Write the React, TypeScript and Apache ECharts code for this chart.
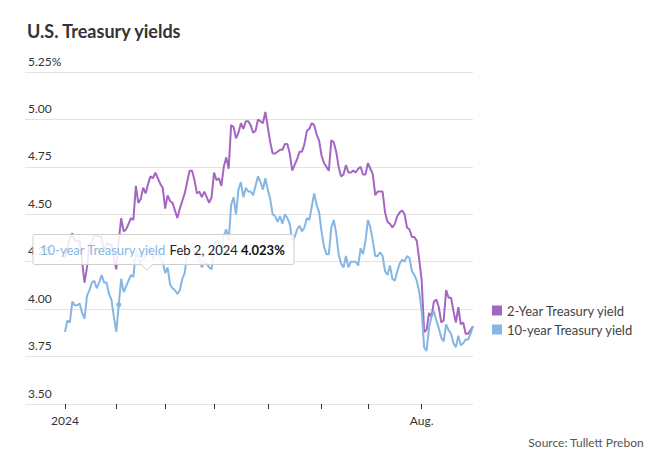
import { useEffect, useRef } from 'react';
import * as echarts from 'echarts';

// ---------- data ----------
const startDate = '2024-01-02';
const endDate = '2024-08-30';
const marketHolidays = ['2024-01-15', '2024-02-19', '2024-03-29', '2024-05-27', '2024-06-19', '2024-07-04'];

// 2-Year Treasury yield, one value per trading day (Jan 2 – Aug 30, 2024)
const twoYearJan = [4.27, 4.33, 4.37, 4.40, 4.36, 4.36, 4.36, 4.25, 4.14, 4.22, 4.34, 4.35, 4.39, 4.39, 4.38, 4.38, 4.30, 4.35, 4.34, 4.34, 4.27];
const twoYearFeb = [4.21, 4.36, 4.48, 4.41, 4.42, 4.45, 4.48, 4.47, 4.65, 4.56, 4.58, 4.64, 4.61, 4.66, 4.70, 4.69, 4.72, 4.69, 4.66, 4.64];
const twoYearMar = [4.53, 4.60, 4.57, 4.56, 4.52, 4.48, 4.53, 4.57, 4.61, 4.67, 4.73, 4.73, 4.68, 4.61, 4.62, 4.59, 4.62, 4.59, 4.56, 4.59];
const twoYearApr = [4.72, 4.68, 4.69, 4.65, 4.75, 4.80, 4.74, 4.97, 4.96, 4.90, 4.93, 4.98, 4.95, 4.99, 4.99, 4.97, 4.93, 4.94, 5.00, 4.99, 4.98, 5.04];
const twoYearMay = [4.96, 4.88, 4.82, 4.82, 4.83, 4.84, 4.84, 4.87, 4.87, 4.82, 4.73, 4.76, 4.79, 4.83, 4.83, 4.87, 4.94, 4.95, 4.98, 4.97, 4.92, 4.89];
const twoYearJun = [4.81, 4.77, 4.75, 4.73, 4.89, 4.88, 4.83, 4.75, 4.70, 4.71, 4.76, 4.72, 4.72, 4.73, 4.72, 4.74, 4.75, 4.71, 4.71];
const twoYearJul = [4.77, 4.74, 4.71, 4.60, 4.62, 4.62, 4.62, 4.51, 4.46, 4.45, 4.43, 4.45, 4.49, 4.51, 4.52, 4.50, 4.43, 4.42, 4.38, 4.38, 4.36, 4.26];
const twoYearAug = [4.15, 3.88, 3.89, 3.98, 3.96, 4.04, 4.05, 4.01, 3.93, 3.94, 4.10, 4.06, 4.06, 3.99, 3.93, 4.01, 3.92, 3.93, 3.87, 3.87, 3.89, 3.91];

// 10-year Treasury yield
const tenYearJan = [3.88, 3.94, 3.93, 4.04, 4.02, 4.02, 4.03, 3.98, 3.95, 4.07, 4.10, 4.14, 4.15, 4.11, 4.14, 4.18, 4.14, 4.14, 4.08, 4.05, 3.96];
const tenYearFeb = [3.88, 4.023, 4.16, 4.09, 4.12, 4.15, 4.18, 4.17, 4.31, 4.27, 4.24, 4.30, 4.27, 4.32, 4.33, 4.26, 4.28, 4.31, 4.27, 4.25];
const tenYearMar = [4.19, 4.22, 4.13, 4.11, 4.10, 4.08, 4.10, 4.16, 4.19, 4.29, 4.31, 4.34, 4.30, 4.28, 4.27, 4.22, 4.25, 4.24, 4.22, 4.21];
const tenYearApr = [4.33, 4.36, 4.36, 4.31, 4.39, 4.42, 4.36, 4.55, 4.59, 4.50, 4.63, 4.67, 4.59, 4.64, 4.62, 4.62, 4.60, 4.65, 4.70, 4.67, 4.63, 4.69];
const tenYearMay = [4.63, 4.58, 4.50, 4.49, 4.46, 4.49, 4.45, 4.50, 4.48, 4.45, 4.36, 4.38, 4.42, 4.44, 4.41, 4.43, 4.48, 4.47, 4.54, 4.61, 4.55, 4.51];
const tenYearJun = [4.41, 4.33, 4.29, 4.29, 4.43, 4.47, 4.40, 4.29, 4.24, 4.22, 4.28, 4.22, 4.25, 4.25, 4.25, 4.23, 4.32, 4.29, 4.36];
const tenYearJul = [4.47, 4.43, 4.36, 4.28, 4.28, 4.30, 4.28, 4.20, 4.18, 4.23, 4.16, 4.15, 4.20, 4.24, 4.26, 4.25, 4.28, 4.27, 4.20, 4.18, 4.15, 4.09];
const tenYearAug = [3.99, 3.80, 3.78, 3.90, 3.96, 3.99, 3.94, 3.90, 3.85, 3.83, 3.92, 3.89, 3.87, 3.82, 3.80, 3.86, 3.81, 3.82, 3.84, 3.84, 3.87, 3.91];

const seriesNames = ['2-Year Treasury yield', '10-year Treasury yield'];
const xLabelDates = ['2024-01-02', '2024-08-01'];
const xLabelTexts = ['2024', 'Aug.'];
const highlightDate = '2024-02-02';
const highlightValue = 4.023;
const highlightLabel = 'Feb 2, 2024';

const yMin = 3.5;
const yMax = 5.25;
const yStep = 0.25;

// ---------- helpers ----------
function tradingDays(start: string, end: string, skip: string[]): string[] {
  const out: string[] = [];
  const d = new Date(start + 'T00:00:00Z');
  const e = new Date(end + 'T00:00:00Z');
  while (d.getTime() <= e.getTime()) {
    const wd = d.getUTCDay();
    const s = d.toISOString().slice(0, 10);
    if (wd !== 0 && wd !== 6 && skip.indexOf(s) < 0) out.push(s);
    d.setUTCDate(d.getUTCDate() + 1);
  }
  return out;
}

const dates = tradingDays(startDate, endDate, marketHolidays);
const twoYear = [...twoYearJan, ...twoYearFeb, ...twoYearMar, ...twoYearApr, ...twoYearMay, ...twoYearJun, ...twoYearJul, ...twoYearAug];
const tenYear = [...tenYearJan, ...tenYearFeb, ...tenYearMar, ...tenYearApr, ...tenYearMay, ...tenYearJun, ...tenYearJul, ...tenYearAug];

const PURPLE = '#a566c3';
const BLUE = '#85b6e4';
const FONT = 'Lato, "Noto Sans", sans-serif';

export default function App() {
  const ref = useRef<HTMLDivElement>(null);

  useEffect(() => {
    document.body.style.margin = '0';
    if (!ref.current) return;
    const chart = echarts.init(ref.current, null, { renderer: 'svg' });

    const monthStart = new Set<number>();
    dates.forEach((d, i) => {
      if (i === 0 || d.slice(0, 7) !== dates[i - 1].slice(0, 7)) monthStart.add(i);
    });
    const labelIdx = new Set<number>(xLabelDates.map((d) => dates.indexOf(d)));
    const labelMap: Record<string, string> = {};
    xLabelDates.forEach((d, i) => (labelMap[d] = xLabelTexts[i]));

    const option: any = {
      animation: false,
      textStyle: { fontFamily: FONT },
      title: {
        text: 'U.S. Treasury yields',
        left: 22,
        top: 17,
        textStyle: { fontSize: 18, fontWeight: 'bold', color: '#333', fontFamily: FONT },
      },
      grid: [
        { left: 65, right: 186, top: 72, bottom: 63 },
        { left: 25, right: 186, top: 72, bottom: 63 },
      ],
      xAxis: [
        {
          type: 'category',
          gridIndex: 0,
          data: dates,
          boundaryGap: false,
          axisLine: { show: false },
          axisTick: {
            show: true,
            interval: (i: number) => monthStart.has(i),
            length: 5,
            lineStyle: { color: '#333', width: 1 },
          },
          axisLabel: {
            interval: (i: number) => labelIdx.has(i),
            formatter: (v: string) => labelMap[v] || '',
            color: '#333',
            fontSize: 12,
            margin: 10,
            fontFamily: FONT,
          },
          splitLine: { show: false },
        },
        { type: 'value', gridIndex: 1, show: false, min: 0, max: 1 },
      ],
      yAxis: [
        { type: 'value', gridIndex: 0, min: yMin, max: yMax, interval: yStep, show: false },
        {
          type: 'value',
          gridIndex: 1,
          min: yMin,
          max: yMax,
          interval: yStep,
          axisLine: { show: false },
          axisTick: { show: false },
          splitLine: { show: true, lineStyle: { color: '#e3e3e3', width: 1 } },
          axisLabel: {
            inside: true,
            margin: 3,
            align: 'left',
            verticalAlign: 'bottom',
            padding: [0, 0, 5, 0],
            color: '#333',
            fontSize: 12,
            fontFamily: FONT,
            formatter: (v: number) => (Math.abs(v - yMax) < 1e-9 ? v.toFixed(2) + '%' : v.toFixed(2)),
          },
        },
      ],
      legend: {
        orient: 'vertical',
        left: 487,
        top: 299,
        itemWidth: 10,
        itemHeight: 10,
        itemGap: 6,
        icon: 'rect',
        selectedMode: false,
        textStyle: { fontSize: 13, color: '#444', fontFamily: FONT },
        data: seriesNames,
      },
      series: [
        {
          name: seriesNames[0],
          type: 'line',
          xAxisIndex: 0,
          yAxisIndex: 0,
          data: twoYear,
          showSymbol: false,
          silent: true,
          lineStyle: { width: 2, color: PURPLE },
          itemStyle: { color: PURPLE },
        },
        {
          name: seriesNames[1],
          type: 'line',
          xAxisIndex: 0,
          yAxisIndex: 0,
          data: tenYear,
          showSymbol: false,
          silent: true,
          lineStyle: { width: 2, color: BLUE },
          itemStyle: { color: BLUE },
          markPoint: {
            symbol: 'circle',
            symbolSize: 5,
            silent: true,
            label: { show: false },
            itemStyle: { color: BLUE },
            data: [{ coord: [highlightDate, highlightValue] }],
          },
        },
      ],
      graphic: [
        {
          type: 'text',
          right: 15,
          top: 436,
          style: { text: 'Source: Tullett Prebon', fontSize: 12, fill: '#555', fontFamily: FONT },
        },
        {
          type: 'group',
          z: 100,
          children: [
            {
              type: 'rect',
              z: 100,
              shape: { x: 33, y: 234.5, width: 261, height: 30, r: 2 },
              style: { fill: 'rgba(255,255,255,0.86)', stroke: '#cfcfcf', lineWidth: 1 },
            },
            {
              type: 'polygon',
              z: 101,
              shape: { points: [[141, 264], [153, 264], [147, 270]] },
              style: { fill: 'rgba(255,255,255,0.86)', stroke: 'none' },
            },
            {
              type: 'polyline',
              z: 101,
              shape: { points: [[141, 264.5], [147, 270], [153, 264.5]] },
              style: { stroke: '#cfcfcf', lineWidth: 1, fill: 'none' },
            },
            {
              type: 'text',
              z: 102,
              x: 40,
              y: 250,
              style: {
                text: '{a|' + seriesNames[1] + '} {b|' + highlightLabel + '} {c|' + highlightValue.toFixed(3) + '%}',
                verticalAlign: 'middle',
                fontFamily: FONT,
                rich: {
                  a: { fontSize: 13, fill: BLUE, color: BLUE, fontFamily: FONT },
                  b: { fontSize: 13, fill: '#222', color: '#222', fontFamily: FONT },
                  c: { fontSize: 13, fill: '#111', color: '#111', fontWeight: 'bold', fontFamily: FONT },
                },
              },
            },
          ],
        },
      ],
    };

    chart.setOption(option);
    return () => chart.dispose();
  }, []);

  return <div ref={ref} style={{ width: 659, height: 467 }} />;
}
